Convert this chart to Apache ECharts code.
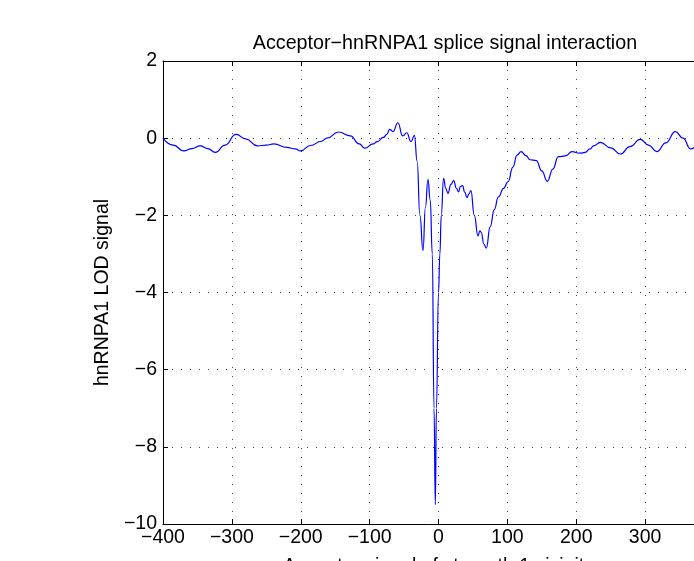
<!DOCTYPE html>
<html>
<head>
<meta charset="utf-8">
<script src="https://cdn.jsdelivr.net/npm/echarts@6/dist/echarts.min.js"></script>
<style>
  html, body { margin: 0; padding: 0; background: #fff; }
  #chart { width: 694px; height: 561px; }
</style>
</head>
<body>
<div id="chart"></div>
<script>
  // position relative to acceptor site
  var positions = [
    -400, -385, -370, -358, -346, -335, -324, -310, -294, -280,
    -263, -250, -239, -220, -208, -200, -186, -170, -162, -145,
    -128, -115, -107, -95, -89, -80, -75, -71, -66, -59,
    -52, -46, -40, -35, -31, -27, -22.5, -19, -15.3, -12,
    -9, -6.5, -4.6, -3, 0, 2, 4, 7.4, 10.5, 13.8,
    18, 22, 26, 29, 32, 35, 38, 41.4, 44, 47,
    52, 57.3, 60, 62, 66, 69.4, 75, 81, 87, 94.5,
    101, 108, 114, 120, 127, 133, 142, 150, 158, 166,
    174, 184, 194, 205, 213, 220, 225, 235, 250, 264,
    278, 293, 305, 317, 330, 344, 355, 366, 380, 400
  ];
  // hnRNPA1 LOD signal
  var lodSignal = [
    0.0, -0.18, -0.33, -0.27, -0.20, -0.27, -0.37, -0.18, 0.10, -0.02,
    -0.20, -0.18, -0.15, -0.24, -0.28, -0.33, -0.19, -0.08, 0.0, 0.16,
    0.06, -0.15, -0.26, -0.15, -0.09, 0.02, 0.10, 0.23, 0.17, 0.40,
    0.06, 0.14, -0.09, 0.07, -0.6, -2.0, -2.91, -1.8, -1.07, -1.6,
    -3.0, -7.0, -9.5, -7.0, -4.0, -3.0, -2.0, -1.04, -1.3, -1.43,
    -1.2, -1.10, -1.3, -1.39, -1.25, -1.23, -1.4, -1.54, -1.45, -1.36,
    -2.0, -2.53, -2.40, -2.44, -2.75, -2.85, -2.3, -1.85, -1.52, -1.30,
    -1.13, -0.75, -0.44, -0.35, -0.45, -0.56, -0.58, -0.85, -1.12, -0.8,
    -0.48, -0.46, -0.35, -0.39, -0.37, -0.28, -0.2, -0.11, -0.25, -0.41,
    -0.22, -0.03, -0.18, -0.35, -0.12, 0.17, 0.0, -0.28, -0.15, -0.05
  ];

  var chart = echarts.init(document.getElementById('chart'));
  var font = '"Liberation Sans", Arial, sans-serif';
  var fmt = function (v) { return String(v).replace('-', '\u2212'); };
  var gridDots = { show: true, lineStyle: { color: '#444', width: 1, type: [1, 8] } };

  var data = [];
  for (var i = 0; i < positions.length; i++) {
    data.push([positions[i], lodSignal[i]]);
  }

  var options = {
    animation: false,
    backgroundColor: '#fff',
    title: {
      text: 'Acceptor\u2212hnRNPA1 splice signal interaction',
      left: 440,
      textAlign: 'center',
      top: 29,
      textStyle: { fontFamily: font, fontSize: 19.7, fontWeight: 'normal', color: '#000' }
    },
    grid: { left: 163, top: 61, width: 551, height: 463, containLabel: false, outerBoundsMode: 'none' },
    xAxis: [
      {
        type: 'value',
        min: -400, max: 400, interval: 100,
        name: 'Acceptor signal of strength 1 vicinity',
        nameLocation: 'middle',
        nameGap: 33,
        nameTextStyle: { fontFamily: font, fontSize: 19.5, color: '#000' },
        axisLine: { show: true, onZero: false, lineStyle: { color: '#000', width: 1 } },
        axisTick: { show: true, inside: true, length: 5, lineStyle: { color: '#000' } },
        axisLabel: { formatter: fmt, fontFamily: font, fontSize: 19.5, color: '#000', margin: 4 },
        splitLine: gridDots
      },
      {
        type: 'value',
        position: 'top',
        min: -400, max: 400, interval: 100,
        axisLine: { show: true, onZero: false, lineStyle: { color: '#000', width: 1 } },
        axisTick: { show: true, inside: true, length: 5, lineStyle: { color: '#000' } },
        axisLabel: { show: false },
        splitLine: { show: false }
      }
    ],
    yAxis: {
      type: 'value',
      min: -10, max: 2, interval: 2,
      name: 'hnRNPA1 LOD signal',
      nameLocation: 'middle',
      nameGap: 48,
      nameTextStyle: { fontFamily: font, fontSize: 19.5, color: '#000' },
      axisLine: { show: true, onZero: false, lineStyle: { color: '#000', width: 1 } },
      axisTick: { show: true, inside: true, length: 5, lineStyle: { color: '#000' } },
      axisLabel: { formatter: fmt, fontFamily: font, fontSize: 19.5, color: '#000', margin: 6 },
      splitLine: gridDots
    },
    series: [
      {
        name: 'LOD signal',
        type: 'line',
        data: data,
        showSymbol: false,
        smooth: 0.5,
        smoothMonotone: 'x',
        lineStyle: { color: '#0000ff', width: 1.2 },
        clip: true
      }
    ]
  };
  chart.setOption(options);
</script>
</body>
</html>
